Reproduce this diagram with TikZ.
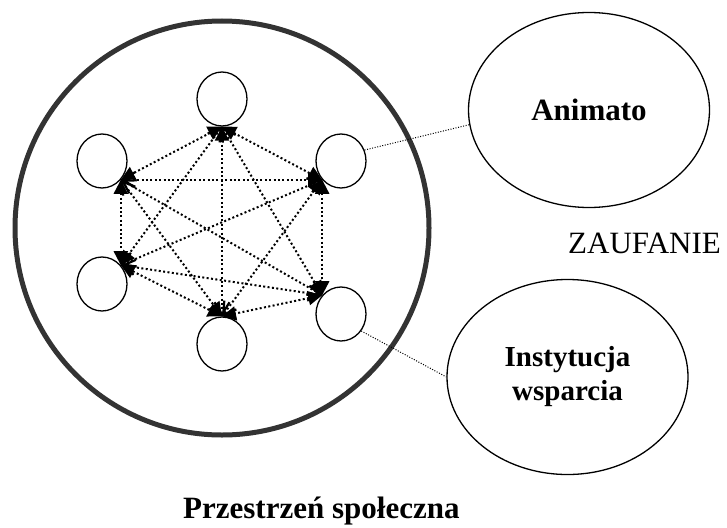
\documentclass[tikz,border=0pt]{standalone}
\usepackage{fontspec}
\setmainfont{Liberation Serif}
\usetikzlibrary{arrows.meta,shapes.geometric}
\tikzset{
  AF/.tip={Triangle[length=14pt,width=14pt]},
  AO/.tip={Straight Barb[length=12pt,width=15pt,line width=2.2pt]},
  person/.style={ellipse,draw,line width=1.3pt,minimum width=50pt,minimum height=54pt,inner sep=0pt},
  bigellipse/.style={ellipse,draw,line width=1.3pt,minimum width=241pt,minimum height=195pt,inner sep=0pt,align=center},
  link/.style={line width=2pt,dash pattern=on 2pt off 2.4pt},
  thinlink/.style={line width=1pt,dash pattern=on 1pt off 1.6pt},
  lbl/.style={font=\fontsize{31}{34}\selectfont\bfseries}
}
\begin{document}
\begin{tikzpicture}[x=1pt,y=-1pt]
\useasboundingbox (0,0) rectangle (727,527);
% big circle
\node[circle,draw=black!80,line width=5pt,minimum size=414pt,inner sep=0pt] (space) at (222,228) {};
% persons
\node[person] (T) at (222,99) {};
\node[person] (UL) at (102,161) {};
\node[person] (UR) at (341,161) {};
\node[person] (LL) at (102,284) {};
\node[person] (LR) at (341,314) {};
\node[person] (B) at (222,344) {};
% convergence points
\coordinate (pT) at (T.south);
\coordinate (pUL) at (UL.-45);
\coordinate (pUR) at (UR.-135);
\coordinate (pLL) at (LL.45);
\coordinate (pLR) at (LR.135);
\coordinate (pB) at (B.north);
% links
\draw[link,AF-AF] (pT) -- (pUL);
\draw[link,AF-AF] (pT) -- (pUR);
\draw[link,AF-AO] (pT) -- (pB);
\draw[link,AO-AF] (pT) -- (pLL);
\draw[link,AO-AF] (pT) -- (pLR);
\draw[link,AO-AF] (pUL) -- (pUR);
\draw[link,AF-AF] (pUL) -- (pLL);
\draw[link,AO-AO] (pUL) -- (pLR);
\draw[link,AO-AF] (pUL) -- (pB);
\draw[link,AO-AO] (pUR) -- (pLL);
\draw[link,AF-AF] (pUR) -- (pLR);
\draw[link,AF-AO] (pUR) -- (pB);
\draw[link,AO-AO] (pLL) -- (pLR);
\draw[link,AF-AF] (pLL) -- (pB);
\draw[link,AF-AF] (pLR) -- (pB);
% outer actors
\node[bigellipse,lbl] (An) at (589,110) {Animato};
\node[bigellipse,font=\fontsize{29}{34}\selectfont\bfseries] (In) at (567.5,377) {Instytucja\\wsparcia};
\draw[thinlink] (UR.25) -- (An.187);
\draw[thinlink] (LR.-40) -- (In.west);
% texts
\node[anchor=base west,inner sep=0pt,font=\fontsize{31}{34}\selectfont] (trust) at (568,253) {ZAUFANIE};
\node[anchor=base west,inner sep=0pt,lbl] (title) at (183,518) {Przestrzeń społeczna};
\end{tikzpicture}
\end{document}
